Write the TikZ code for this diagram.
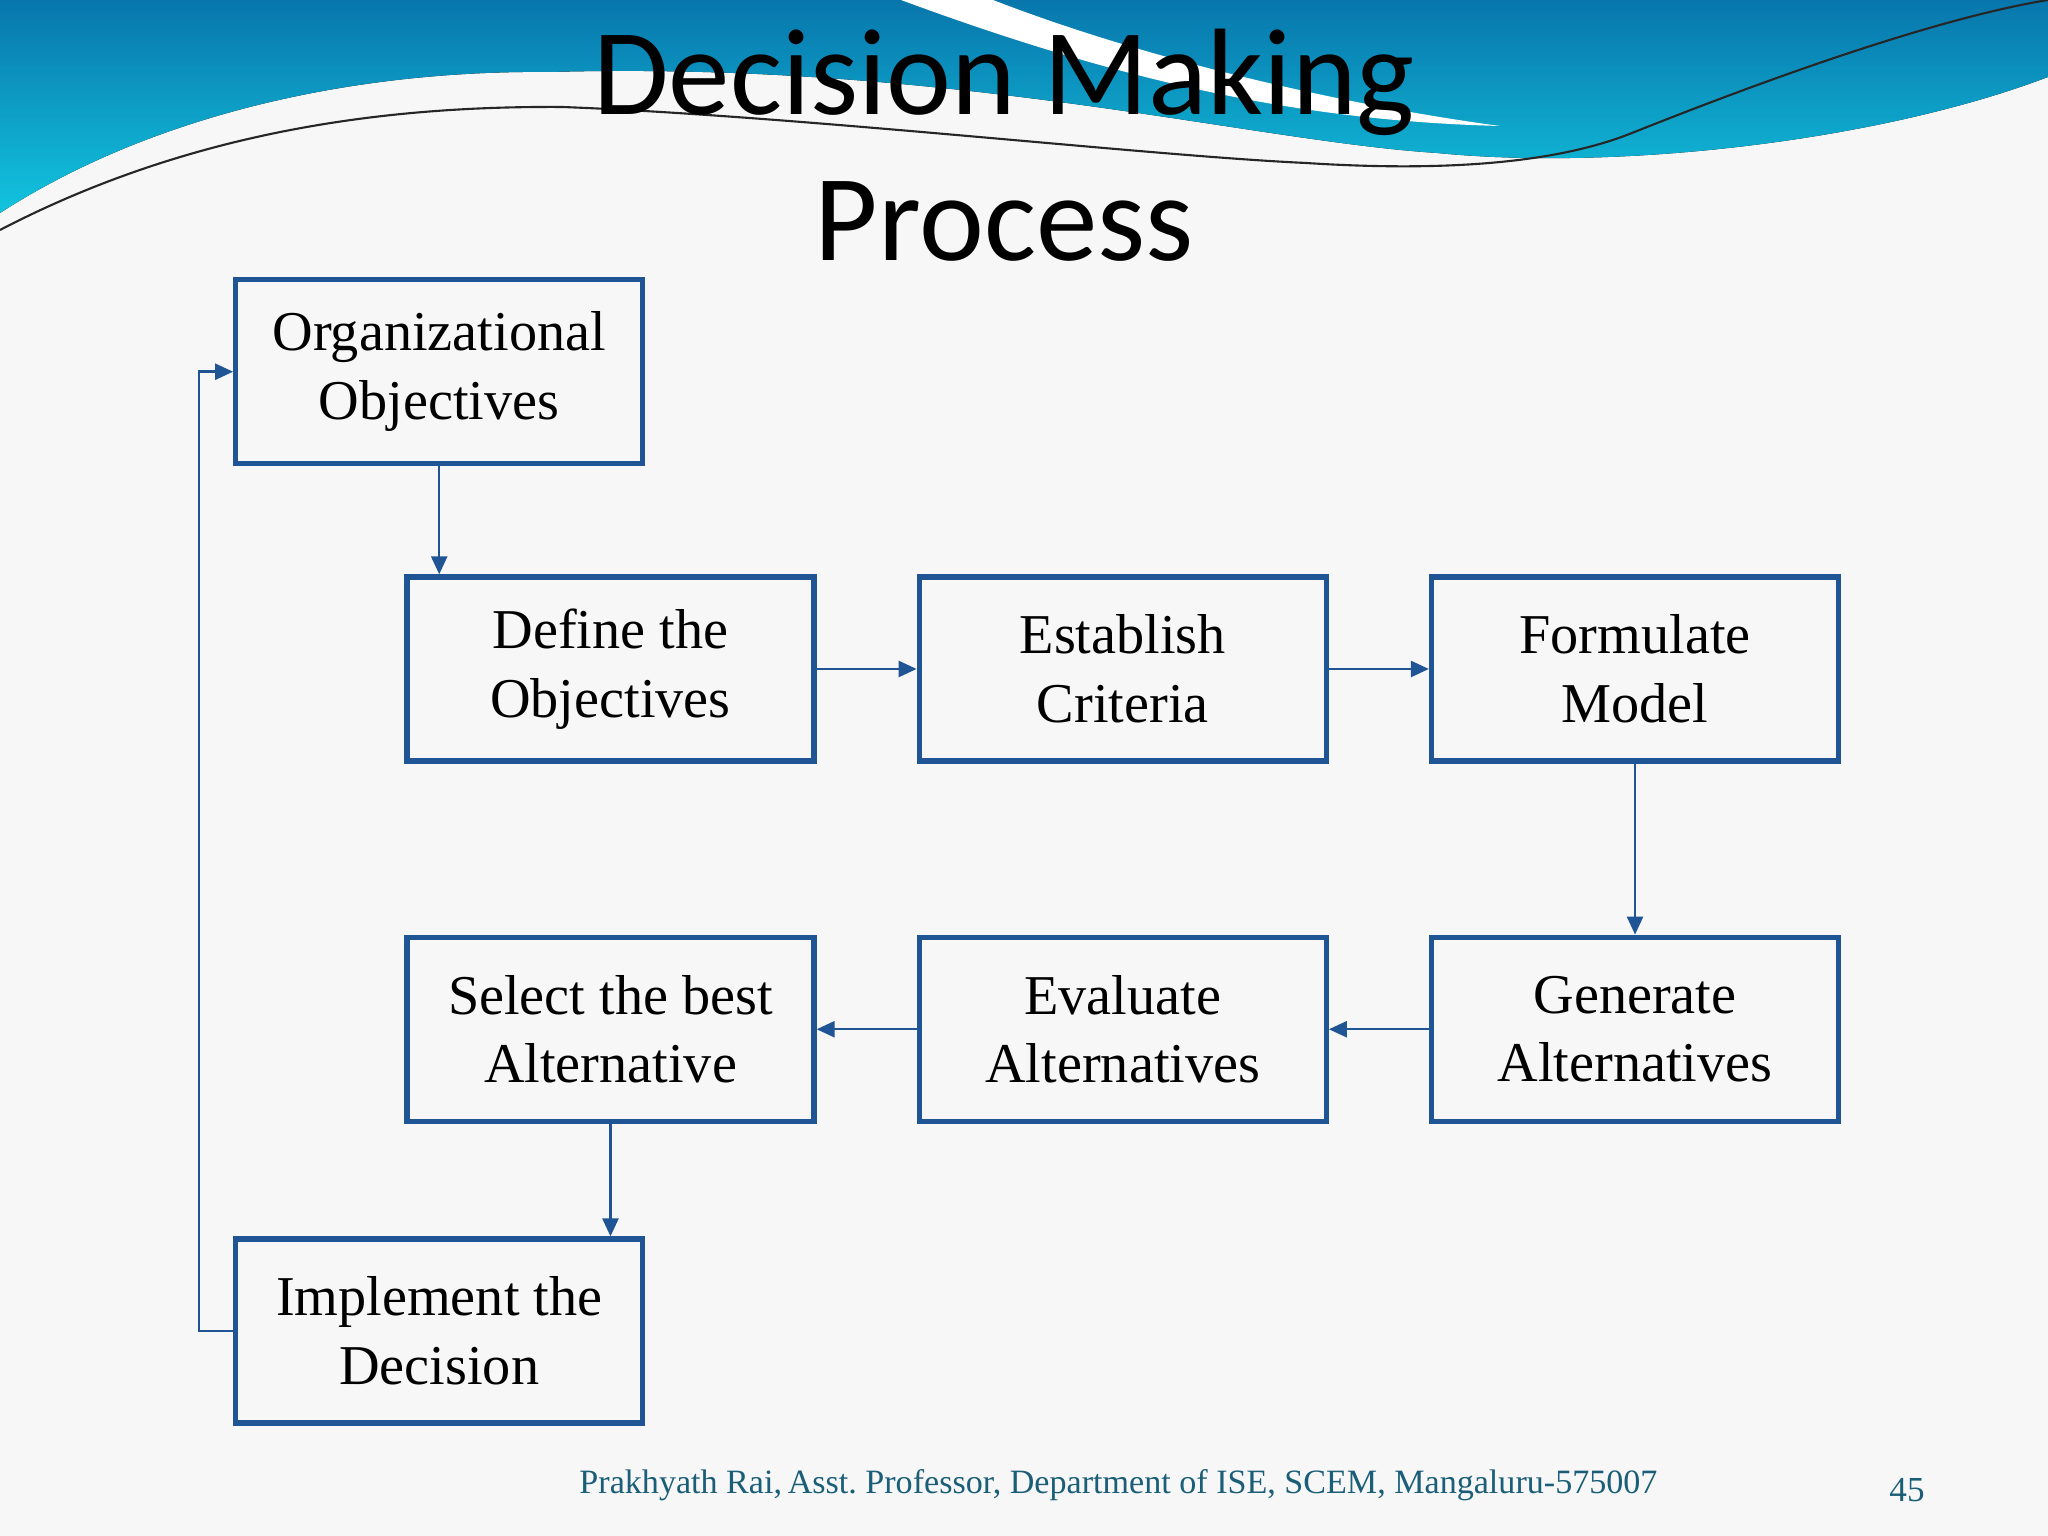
\documentclass[tikz,border=0pt]{standalone}
\usepackage{fontspec}
\setmainfont{Liberation Serif}
\newfontfamily\titlefont{Carlito}
\usepackage{tikz}
\usetikzlibrary{positioning}
\usetikzlibrary{arrows.meta}

\definecolor{dm_blue}{RGB}{31,85,148}
\definecolor{wave_top}{RGB}{8,118,172}
\definecolor{wave_low}{RGB}{18,196,222}
\definecolor{foot_teal}{RGB}{27,94,120}

\begin{document}
\begin{tikzpicture}
            \tikzstyle{dm_node}=[rectangle, draw=dm_blue, line width=1.5pt, minimum width=4.07cm, minimum height=1.84cm, align=center, font=\fontsize{16}{19.5}\selectfont];
            \tikzstyle{arrow}=[draw=dm_blue, line width=0.7pt, -{Triangle[length=1.8mm, width=1.6mm]}];

            % slide background
            \useasboundingbox (0,0) rectangle (20.48,15.36);
            \fill[black!3] (0,0) rectangle (20.48,15.36);
            \fill[top color=wave_top, bottom color=wave_low] (0,15.36) -- (20.48,15.36) -- (20.48,14.59) .. controls (18.8,13.95) and (16.2,13.65) .. (14.37,13.83) .. controls (12.5,13.95) and (9.5,14.75) .. (5.5,14.64) .. controls (3.5,14.66) and (1.5,14.2) .. (0,13.23) -- cycle;
            \fill[white] (9.01,15.36) .. controls (11.2,14.55) and (13,14.15) .. (15.0,14.1) .. controls (13.5,14.3) and (11.5,14.75) .. (9.93,15.36) -- cycle;
            \draw[black!85, line width=0.6pt] (0,13.06) .. controls (2,14.1) and (4,14.3) .. (5.62,14.29) .. controls (8,14.2) and (11.5,13.8) .. (13.06,13.73) .. controls (14.3,13.65) and (15.5,13.7) .. (16.32,14.03) .. controls (18,14.7) and (19.5,15.2) .. (20.48,15.36);

            % title
            \node(title_a) [font=\titlefont\fontsize{35}{42}\selectfont, anchor=base] at (10.04,14.21) {Decision Making};
            \node(title_b) [font=\titlefont\fontsize{35}{42}\selectfont, anchor=base] at ([yshift=-1.46cm]title_a.base) {Process};

            % upper row
            \node(define) [dm_node] at (6.105,8.67) {Define the\\Objectives};
            \node(establish) [dm_node, right = 1cm of define] {Establish\\Criteria};
            \node(formulate) [dm_node, right = 1cm of establish] {Formulate\\Model};
            \node(org) [dm_node, above left = 1.08cm and -2.41cm of define] {Organizational\\Objectives};

            % lower row
            \node(generate) [dm_node, below = 1.71cm of formulate] {Generate\\Alternatives};
            \node(evaluate) [dm_node, left = 1cm of generate] {Evaluate\\Alternatives};
            \node(select) [dm_node, left = 1cm of evaluate] {Select the best\\Alternative};
            \node(implement) [dm_node, below left = 1.125cm and -2.41cm of select] {Implement the\\Decision};

            % arrows
            \draw[arrow] (org.south) -- (org.south |- define.north);
            \draw[arrow] (define) -- (establish);
            \draw[arrow] (establish) -- (formulate);
            \draw[arrow] (formulate) -- (generate);
            \draw[arrow] (generate) -- (evaluate);
            \draw[arrow] (evaluate) -- (select);
            \draw[arrow] (select.south) -- (select.south |- implement.north);
            \coordinate(loop_b) at ([xshift=-0.34cm]implement.west);
            \draw[arrow] (implement.west) -- (loop_b) |- (org.west);

            % footer
            \node(footer) [font=\fontsize{9.7}{12}\selectfont, text=foot_teal, anchor=base] at (11.185,0.42) {Prakhyath Rai,\,Asst.\ Professor, Department of ISE, SCEM, Mangaluru-575007};
            \node(page_no) [font=\fontsize{10}{12}\selectfont, text=foot_teal, anchor=base] at (19.07,0.34) {45};
\end{tikzpicture}
\end{document}
